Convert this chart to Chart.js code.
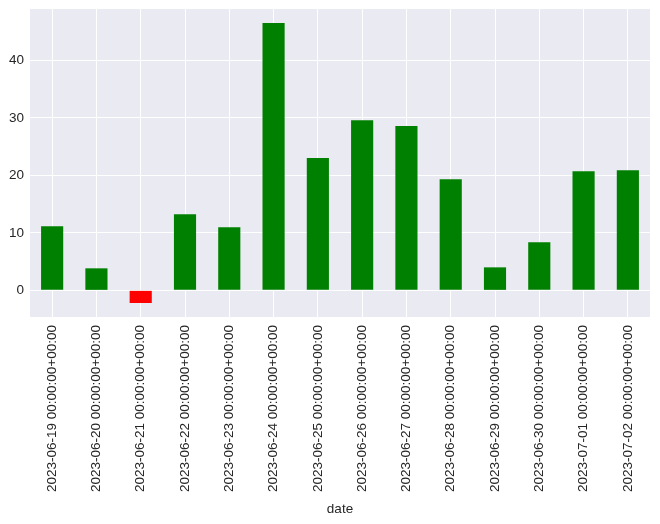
<!DOCTYPE html>
<html>
<head>
<meta charset="utf-8">
<script src="https://cdn.jsdelivr.net/npm/chart.js@4/dist/chart.umd.min.js"></script>
<style>
  html, body { margin: 0; padding: 0; background: #fff; }
  #wrap { width: 660px; height: 524px; }
</style>
</head>
<body>
<div id="wrap"><canvas id="chart" width="660" height="524"></canvas></div>
<script>
// data
const dates = [
  "2023-06-19 00:00:00+00:00", "2023-06-20 00:00:00+00:00", "2023-06-21 00:00:00+00:00",
  "2023-06-22 00:00:00+00:00", "2023-06-23 00:00:00+00:00", "2023-06-24 00:00:00+00:00",
  "2023-06-25 00:00:00+00:00", "2023-06-26 00:00:00+00:00", "2023-06-27 00:00:00+00:00",
  "2023-06-28 00:00:00+00:00", "2023-06-29 00:00:00+00:00", "2023-06-30 00:00:00+00:00",
  "2023-07-01 00:00:00+00:00", "2023-07-02 00:00:00+00:00"
];
const values = [11.15, 3.83, -2.2, 13.24, 10.98, 46.5, 23.0, 29.6, 28.57, 19.34, 4.0, 8.36, 20.73, 20.9];
const yTicks = [0, 10, 20, 30, 40];

const barColors = values.map(v => v < 0 ? "#ff0000" : "#008000");
const textColor = "#262626";
const fontFamily = "'Liberation Sans', Arial, sans-serif";

// pandas-like 5% margins
const yMin = Math.min(...values), yMax = Math.max(...values);
const pad = (yMax - yMin) * 0.05;

const plotBg = {
  id: "plotBg",
  beforeDraw(chart) {
    const { ctx, chartArea: a } = chart;
    ctx.save();
    ctx.fillStyle = "#eaeaf2";
    ctx.fillRect(a.left, a.top, a.right - a.left, a.bottom - a.top);
    ctx.restore();
  }
};

new Chart(document.getElementById("chart").getContext("2d"), {
  type: "bar",
  data: {
    labels: dates,
    datasets: [{
      data: values,
      backgroundColor: barColors,
      barPercentage: 0.5,
      categoryPercentage: 1.0,
      borderWidth: 0
    }]
  },
  options: {
    responsive: false,
    animation: false,
    layout: { padding: { left: 0, right: 10, top: 9, bottom: 0 } },
    plugins: {
      legend: { display: false },
      tooltip: { enabled: false }
    },
    scales: {
      x: {
        offset: true,
        grid: { offset: false, color: "#ffffff", lineWidth: 1, drawTicks: false },
        border: { display: false },
        ticks: {
          autoSkip: false,
          maxRotation: 90,
          minRotation: 90,
          padding: 8,
          color: textColor,
          font: { family: fontFamily, size: 13.5 }
        },
        title: {
          display: true,
          text: "date",
          color: textColor,
          font: { family: fontFamily, size: 13.5 },
          padding: { top: 0, bottom: 7 }
        },
        afterFit: s => { s.height = 207; s.paddingLeft = 0; s.paddingRight = 0; }
      },
      y: {
        min: yMin - pad,
        max: yMax + pad,
        grid: { color: "#ffffff", lineWidth: 1, drawTicks: false },
        border: { display: false },
        ticks: {
          stepSize: 10,
          padding: 6,
          color: textColor,
          font: { family: fontFamily, size: 13.5 }
        },
        afterBuildTicks: s => { s.ticks = yTicks.map(v => ({ value: v })); },
        afterFit: s => { s.width = 30; s.paddingTop = 0; s.paddingBottom = 0; }
      }
    }
  },
  plugins: [plotBg]
});
</script>
</body>
</html>
